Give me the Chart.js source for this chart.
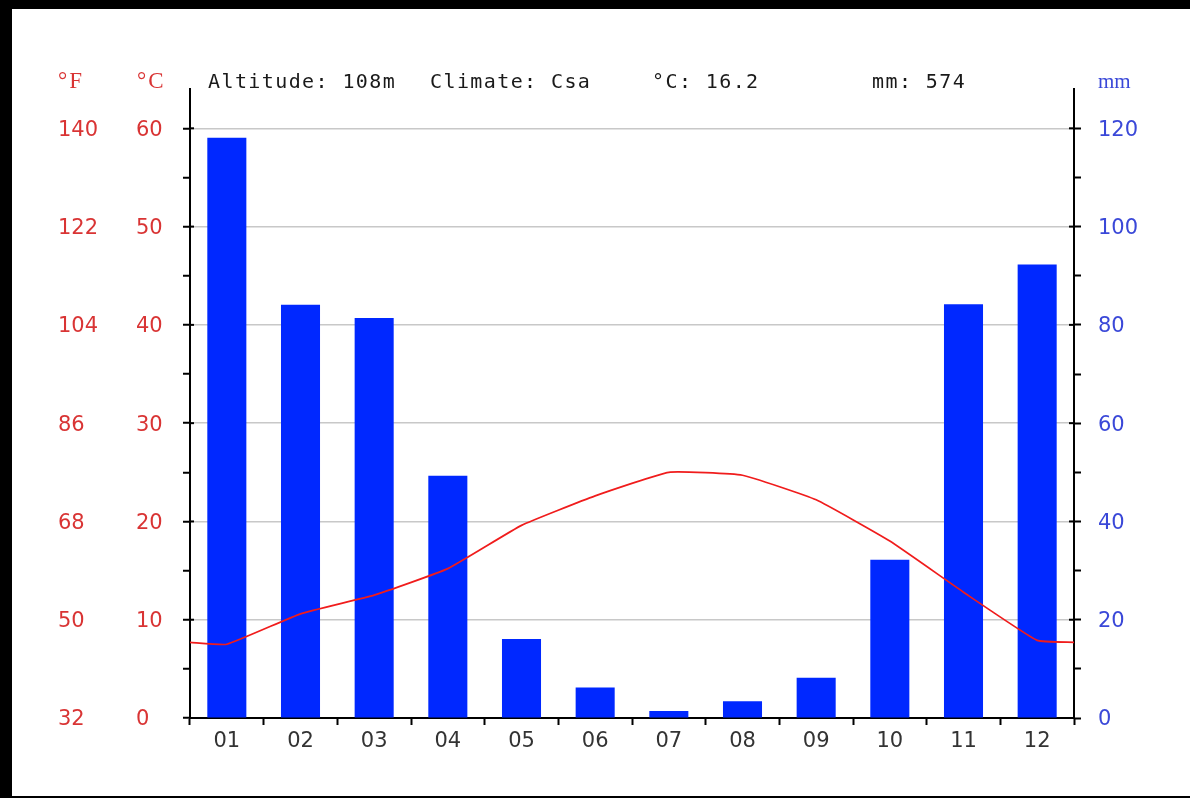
<!DOCTYPE html>
<html>
<head>
<meta charset="utf-8">
<script src="https://cdn.jsdelivr.net/npm/chart.js@4.4.1/dist/chart.umd.min.js"></script>
<style>
  html, body { margin: 0; padding: 0; background: #fff; }
  #wrap { width: 1190px; height: 798px; position: relative; }
</style>
</head>
<body>
<div id="wrap"><canvas id="climate"></canvas></div>
<script>
// climate data
const months = ['01', '02', '03', '04', '05', '06', '07', '08', '09', '10', '11', '12'];
const precipitation = [118.1, 84.1, 81.4, 49.3, 16.1, 6.2, 1.4, 3.4, 8.2, 32.2, 84.2, 92.3];
const temperature = [7.5, 10.6, 12.5, 15.2, 19.6, 22.6, 25.0, 24.7, 22.2, 18.0, 12.8, 7.9];

const celsiusTicks = [0, 10, 20, 30, 40, 50, 60];
const fahrenheitTicks = [32, 50, 68, 86, 104, 122, 140];
const mmTicks = [0, 20, 40, 60, 80, 100, 120];

const altitude = 108;
const climateClass = 'Csa';
const meanTemp = 16.2;
const totalMm = 574;

// the line wraps round the year: half a month before Jan / after Dec
const wrapTemp = (temperature[0] + temperature[11]) / 2;
const tempPoints = [{ x: -0.5, y: wrapTemp }]
  .concat(temperature.map((t, i) => ({ x: i, y: t })))
  .concat([{ x: 11.5, y: wrapTemp }]);

const RED = '#d93434';
const BLUE = '#3a48d8';
const tickFont = { family: 'DejaVu Sans', size: 21 };

const frame = {
  id: 'frame',
  beforeDraw(chart) {
    const ctx = chart.ctx;
    ctx.save();
    ctx.fillStyle = '#fff';
    ctx.fillRect(0, 0, chart.width, chart.height);
    ctx.fillStyle = '#000';
    ctx.fillRect(0, 0, chart.width, 9);
    ctx.fillRect(0, 0, 12, chart.height);
    ctx.fillRect(0, chart.height - 2, chart.width, 2);
    ctx.restore();
  },
  afterDraw(chart) {
    const ctx = chart.ctx;
    const area = chart.chartArea;
    const s = chart.scales;
    ctx.save();

    // little stubs of the major ticks inside the plot
    ctx.strokeStyle = '#000';
    ctx.lineWidth = 2;
    celsiusTicks.forEach(v => {
      const y = s.y.getPixelForValue(v);
      ctx.beginPath(); ctx.moveTo(area.left, y); ctx.lineTo(area.left + 4, y); ctx.stroke();
    });
    mmTicks.forEach(v => {
      const y = s.y1.getPixelForValue(v);
      ctx.beginPath(); ctx.moveTo(area.right - 5, y); ctx.lineTo(area.right, y); ctx.stroke();
    });

    // unit labels
    const base = area.top - 1;
    ctx.textBaseline = 'alphabetic';
    ctx.textAlign = 'left';
    ctx.font = '23px "Liberation Serif"';
    ctx.letterSpacing = '2px';
    ctx.fillStyle = RED;
    ctx.fillText('°F', s.yf.left, base);
    ctx.fillText('°C', s.y.left + 1, base);
    ctx.letterSpacing = '0px';
    ctx.font = '21px "Liberation Serif"';
    ctx.fillStyle = BLUE;
    ctx.fillText('mm', s.y1.left + 24, base);

    // header line
    ctx.font = '20px "DejaVu Sans Mono"';
    ctx.letterSpacing = '1.4px';
    ctx.fillStyle = '#1a1a1a';
    ctx.fillText('Altitude: ' + altitude + 'm', area.left + 18, base);
    ctx.fillText('Climate: ' + climateClass, area.left + 240, base);
    ctx.fillText('°C: ' + meanTemp.toFixed(1), area.left + 462, base);
    ctx.fillText('mm: ' + totalMm, area.left + 682, base);
    ctx.restore();
  }
};

new Chart(document.getElementById('climate'), {
  type: 'bar',
  data: {
    labels: months,
    datasets: [
      {
        type: 'line',
        label: '°C',
        data: tempPoints,
        xAxisID: 'xt',
        yAxisID: 'y',
        borderColor: '#f01c1c',
        borderWidth: 1.7,
        pointRadius: 0,
        tension: 0.12,
        order: 0
      },
      {
        label: 'mm',
        data: precipitation,
        xAxisID: 'x',
        yAxisID: 'y1',
        backgroundColor: '#0028ff',
        grouped: false,
        barPercentage: 0.53,
        categoryPercentage: 1,
        order: 1
      }
    ]
  },
  options: {
    responsive: true,
    maintainAspectRatio: false,
    animation: false,
    events: [],
    layout: { padding: { left: 58, right: 0, top: 89, bottom: 0 } },
    plugins: { legend: { display: false }, tooltip: { enabled: false } },
    scales: {
      x: {
        type: 'category',
        offset: true,
        grid: { offset: true, drawOnChartArea: false, tickLength: 7, tickColor: '#000', tickWidth: 2 },
        border: { color: '#000', width: 2 },
        ticks: { color: '#333', font: tickFont, padding: 4, maxRotation: 0 },
        afterFit: sc => { sc.height = 80; }
      },
      xt: { type: 'linear', display: false, min: -0.5, max: 11.5, offset: false },
      y: {
        type: 'linear',
        position: 'left',
        weight: 0,
        min: 0,
        max: 64,
        afterBuildTicks: sc => { sc.ticks = sc.ticks.filter(t => t.value <= celsiusTicks[celsiusTicks.length - 1] && t.value % 5 === 0); },
        ticks: {
          stepSize: 5,
          color: RED,
          font: tickFont,
          crossAlign: 'far',
          labelOffset: 2,
          callback: v => celsiusTicks.includes(v) ? String(v) : ''
        },
        grid: {
          color: c => (c.tick && c.tick.value > 0 && celsiusTicks.includes(c.tick.value)) ? '#c8c8c8' : 'rgba(0,0,0,0)',
          lineWidth: 1.5,
          tickColor: '#000',
          tickLength: 7,
          tickWidth: 2
        },
        border: { color: '#000', width: 2 },
        afterFit: sc => { sc.width = 54; }
      },
      yf: {
        type: 'linear',
        position: 'left',
        weight: 1,
        min: 32,
        max: 32 + 64 * 1.8,
        afterBuildTicks: sc => { sc.ticks = fahrenheitTicks.map(v => ({ value: v })); },
        ticks: { color: RED, font: tickFont, crossAlign: 'far', labelOffset: 2, callback: v => String(v) },
        grid: { display: false },
        border: { display: false },
        afterFit: sc => { sc.width = 78; }
      },
      y1: {
        type: 'linear',
        position: 'right',
        min: 0,
        max: 128,
        afterBuildTicks: sc => { sc.ticks = sc.ticks.filter(t => t.value <= mmTicks[mmTicks.length - 1] && t.value % 10 === 0); },
        ticks: {
          stepSize: 10,
          color: BLUE,
          font: tickFont,
          crossAlign: 'near',
          padding: 17,
          labelOffset: 2,
          callback: v => mmTicks.includes(v) ? String(v) : ''
        },
        grid: { drawOnChartArea: false, tickColor: '#000', tickLength: 7, tickWidth: 2 },
        border: { color: '#000', width: 2 },
        afterFit: sc => { sc.width = 116; }
      }
    }
  },
  plugins: [frame]
});
</script>
</body>
</html>
